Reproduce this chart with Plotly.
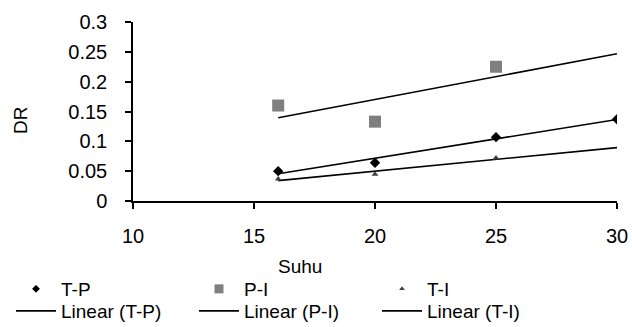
import numpy as np
import plotly.graph_objects as go

# Data
tp_x = [16, 20, 25, 30]
tp_y = [0.05, 0.064, 0.107, 0.137]
pi_x = [16, 20, 25]
pi_y = [0.160, 0.133, 0.225]
ti_x = [16, 20, 25]
ti_y = [0.037, 0.045, 0.072]

x_ticks = [10, 15, 20, 25, 30]
y_ticks = [0, 0.05, 0.1, 0.15, 0.2, 0.25, 0.3]

FONT = "Liberation Sans, Arial, sans-serif"
W, H = 632, 327
L, R, T, B = 133, 15, 22, 126

fit_lo, fit_hi = 16, 30


def trend(xs, ys):
    m, c = np.polyfit(xs, ys, 1)
    xx = np.array([fit_lo, fit_hi], dtype=float)
    return xx, m * xx + c


fig = go.Figure()

series = [
    ("T-P", tp_x, tp_y, dict(symbol="diamond", size=8, color="#000000"), dict(symbol="diamond", size=6, color="#000000")),
    ("P-I", pi_x, pi_y, dict(symbol="square", size=12, color="#7f7f7f"), dict(symbol="square", size=9, color="#7f7f7f")),
    ("T-I", ti_x, ti_y, dict(symbol="triangle-up", size=6, color="#404040"), dict(symbol="triangle-up", size=5, color="#404040")),
]

# trend lines first (drawn under markers)
for name, xs, ys, mk, lmk in series:
    tx, ty = trend(xs, ys)
    fig.add_trace(go.Scatter(x=tx, y=ty, mode="lines", line=dict(color="#000000", width=1.6),
                             showlegend=False, hoverinfo="skip"))

for name, xs, ys, mk, lmk in series:
    fig.add_trace(go.Scatter(x=xs, y=ys, mode="markers", marker=dict(**mk, line=dict(width=0)),
                             showlegend=False, name=name))

# legend entries: one small legend per entry, laid out in a 3x2 grid
COL_X = [11, 194, 377]
ROW_Y = [289, 311]
legend_layouts = {}
for i, (name, xs, ys, mk, lmk) in enumerate(series):
    key = "legend" if i == 0 else f"legend{i + 1}"
    fig.add_trace(go.Scatter(x=[None], y=[None], mode="markers", name=name,
                             marker=dict(**lmk, line=dict(width=0)), legend=key))
    legend_layouts[key] = (COL_X[i], ROW_Y[0])
for i, (name, xs, ys, mk, lmk) in enumerate(series):
    key = f"legend{i + 4}"
    fig.add_trace(go.Scatter(x=[None], y=[None], mode="lines", name=f"Linear ({name})",
                             line=dict(color="#000000", width=1.6), legend=key))
    legend_layouts[key] = (COL_X[i], ROW_Y[1])

axis_common = dict(showgrid=False, zeroline=False, showline=True, linecolor="#000000", linewidth=1.5,
                   ticks="outside", ticklen=6, tickwidth=1.5, tickcolor="#000000",
                   tickfont=dict(family=FONT, size=20, color="#000000"))

fig.update_xaxes(range=[10, 30], tickvals=x_ticks, ticklabelstandoff=10, **axis_common)
fig.update_yaxes(range=[0, 0.3], tickvals=y_ticks, ticktext=[f"{v:g}" for v in y_ticks],
                 ticklabelstandoff=14, **axis_common)

leg_common = dict(orientation="h", xref="container", yref="container", xanchor="left",
                  yanchor="middle", itemwidth=40,
                  bgcolor="rgba(0,0,0,0)", borderwidth=0,
                  font=dict(family=FONT, size=19, color="#000000"))

fig.update_layout(
    width=W, height=H,
    margin=dict(l=L, r=R, t=T, b=B, autoexpand=False),
    paper_bgcolor="#ffffff", plot_bgcolor="#ffffff",
    font=dict(family=FONT, size=19, color="#000000"),
    annotations=[
        dict(text="DR", xref="paper", yref="paper", x=(20 - L) / (W - L - R), y=(H - B - 121) / (H - T - B),
             showarrow=False, textangle=-90, font=dict(family=FONT, size=19, color="#000000"),
             xanchor="center", yanchor="middle"),
        dict(text="Suhu", xref="paper", yref="paper", x=(300 - L) / (W - L - R), y=(H - B - 266) / (H - T - B),
             showarrow=False, font=dict(family=FONT, size=19, color="#000000"),
             xanchor="center", yanchor="middle"),
    ],
)
fig.update_layout({k: dict(x=px / W, y=1 - py / H, **leg_common) for k, (px, py) in legend_layouts.items()})

fig.write_html("out.html", config={"displayModeBar": False},
               post_script="document.body.style.margin='0';document.body.style.overflow='hidden';")
